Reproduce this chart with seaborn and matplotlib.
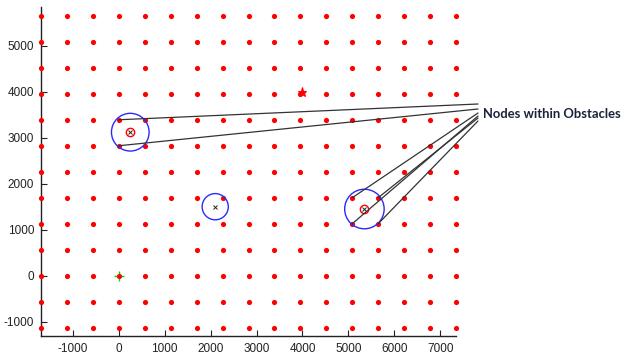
import matplotlib
matplotlib.use("Agg")
import matplotlib.pyplot as plt
from matplotlib.patches import Circle
import seaborn as sns
import pandas as pd

# ---- data ----
node_x = [-1695, -1130, -565, 0, 565, 1130, 1695, 2260, 2825, 3390, 3955,
          4520, 5085, 5650, 6215, 6780, 7345]
node_y = [-1130, -565, 0, 565, 1130, 1695, 2260, 2825, 3390, 3955, 4520,
          5085, 5650]

obs_x = [250, 2100, 5350]
obs_y = [3120, 1500, 1450]
obs_r = [410, 285, 430]
obs_hit = [True, False, True]

start_xy = (0, 0)
goal_xy = (4000, 4000)

flag_x = [0, 0, 5085, 5085, 5650, 5650]
flag_y = [3390, 2825, 1695, 1130, 1695, 1130]
flag_end_y = [104, 109, 113, 116, 118, 121]  # pixel rows where callout lines meet

xticks = [-1000, 0, 1000, 2000, 3000, 4000, 5000, 6000, 7000]
yticks = [-1000, 0, 1000, 2000, 3000, 4000, 5000]

label_text = "Nodes within Obstacles"

# ---- table ----
nodes = pd.DataFrame([(x, y) for y in node_y for x in node_x], columns=["x", "y"])

sns.set_style("white", {"axes.spines.top": False, "axes.spines.right": False})
plt.rcParams["font.family"] = ["Liberation Sans", "DejaVu Sans"]

W, H = 622, 358
fig = plt.figure(figsize=(W / 100, H / 100), dpi=100)
ax = fig.add_axes([41 / W, 1 - 335.7 / H, (456 - 41) / W, (335.7 - 7) / H])

# start marker beneath nodes
ax.plot([start_xy[0]], [start_xy[1]], marker="+", color="#00dd00", ms=7, mew=1, ls="none", zorder=2)

sns.scatterplot(data=nodes, x="x", y="y", ax=ax, color="#ff0000", s=14,
                linewidth=0, marker="o", zorder=3, legend=False, clip_on=False)

ax.plot([goal_xy[0]], [goal_xy[1]], marker="*", color="#ff0000", ms=6.5, mew=0.8, ls="none", zorder=4)

for cx, cy, r, hit in zip(obs_x, obs_y, obs_r, obs_hit):
    ax.add_patch(Circle((cx, cy), r, fill=False, edgecolor="#2a2aff", lw=1.0, zorder=4))
    if hit:
        ax.plot([cx], [cy], marker="o", mfc="none", mec="#ff0000", ms=6, mew=1.0, ls="none", zorder=5)
    ax.plot([cx], [cy], marker="x", color="#222222", ms=3.5, mew=0.7, ls="none", zorder=6)

for fx, fy, ey in zip(flag_x, flag_y, flag_end_y):
    ax.annotate("", xy=(fx, fy), xycoords="data",
                xytext=(478 / W, 1 - ey / H), textcoords="figure fraction",
                arrowprops=dict(arrowstyle="-", color="#333333", lw=0.9,
                                shrinkA=0, shrinkB=0),
                annotation_clip=False, zorder=7)

fig.text(483 / W, 1 - 114 / H, label_text, fontsize=9.4, fontweight="bold",
         family=["Lato", "DejaVu Sans"], color="#1c2238", ha="left", va="center")

ax.set_xlim(-1695, 7345)
ax.set_ylim(-1304, 5841)
ax.set_xticks(xticks)
ax.set_yticks(yticks)
ax.set_xticklabels([str(t) for t in xticks])
ax.set_yticklabels([str(t) for t in yticks])
ax.set_xlabel("")
ax.set_ylabel("")
ax.tick_params(direction="in", length=4, width=0.8, color="#222222",
               labelsize=8.5, labelcolor="#222222", pad=5,
               bottom=True, left=True, top=False, right=False)
ax.spines["top"].set_visible(False)
ax.spines["right"].set_visible(False)
for s in ["left", "bottom"]:
    ax.spines[s].set_color("#222222")
    ax.spines[s].set_linewidth(1.0)
ax.patch.set_alpha(0)

fig.savefig("out.png", dpi=100, facecolor="white")
